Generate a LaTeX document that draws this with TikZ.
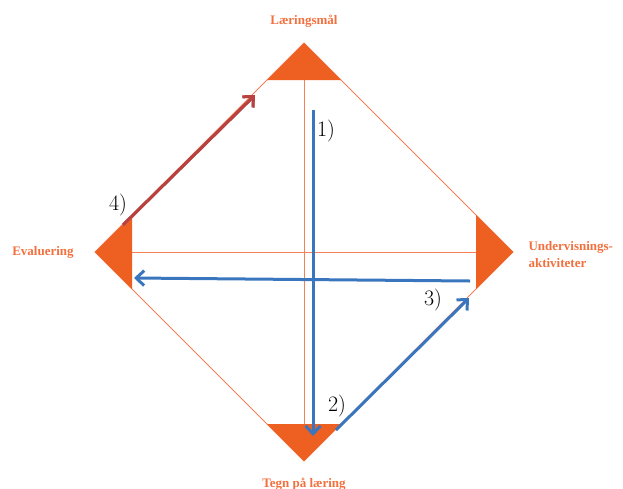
\documentclass[tikz,border=0pt]{standalone}
\usepackage{fontspec}
\usepackage{tikz}
\usetikzlibrary{arrows.meta}
\newfontfamily\labelfont{Liberation Serif}
\definecolor{orng}{RGB}{238,96,34}
\definecolor{orngtxt}{RGB}{242,112,62}
\definecolor{orngline}{RGB}{244,128,88}
\definecolor{blu}{RGB}{58,118,190}
\definecolor{rd}{RGB}{188,64,62}

\begin{document}
\begin{tikzpicture}[
    x=1pt, y=-1pt,
    corner/.style={fill=orng},
    frameline/.style={draw=orngline, line width=0.9pt},
    cornerlabel/.style={text=orngtxt, font=\labelfont\bfseries\fontsize{13}{17}\selectfont, align=left},
    numlabel/.style={font=\fontsize{22}{24}\selectfont},
    arrow/.style={-{Straight Barb[length=8pt,width=15pt]}, line width=3pt, draw=blu},
    redarrow/.style={arrow, draw=rd},
    shadow/.style={arrow, draw=black!45}
]
\useasboundingbox (0,0) rectangle (623,488);
% diamond corners
\coordinate (t) at (304,43);
\coordinate (r) at (513,252);
\coordinate (b) at (304,461);
\coordinate (l) at (95,252);
\draw[frameline] (t) -- (r) -- (b) -- (l) -- cycle;
\draw[frameline] (304,80) -- (304,425);
\draw[frameline] (132,252) -- (476,252);
\fill[corner] (t) -- (341,80) -- (267,80) -- cycle;
\fill[corner] (r) -- (476,215) -- (476,289) -- cycle;
\fill[corner] (b) -- (267,424) -- (341,424) -- cycle;
\fill[corner] (l) -- (132,215) -- (132,289) -- cycle;

\node[cornerlabel] (lm) at (304,21) {Læringsmål};
\node[cornerlabel, anchor=west] (uv) at (525,255) {Undervisnings-\\aktiviteter};
\node[cornerlabel] (ev) at (43,252) {Evaluering};
\node[cornerlabel] (tp) at (304,484) {Tegn på læring};

% arrow ends
\coordinate (a1) at (313,110);
\coordinate (a2) at (313,436);
\coordinate (h1) at (470,281);
\coordinate (h2) at (134,278);
\coordinate (d1) at (336,430);
\coordinate (d2) at (469,298);
\coordinate (e1) at (123,225);
\coordinate (e2) at (255,95);
\draw[arrow] (a1) -- (a2);
\draw[arrow] (h1) -- (h2);
\draw[arrow] (d1) -- (d2);
\draw[shadow, shift={(1.5,1.5)}] (e1) -- (e2);
\draw[redarrow] (e1) -- (e2);

\node[numlabel] (n1) at (326,131) {1)};
\node[numlabel] (n2) at (337,406) {2)};
\node[numlabel] (n3) at (433,300) {3)};
\node[numlabel] (n4) at (118,205) {4)};
\end{tikzpicture}
\end{document}
